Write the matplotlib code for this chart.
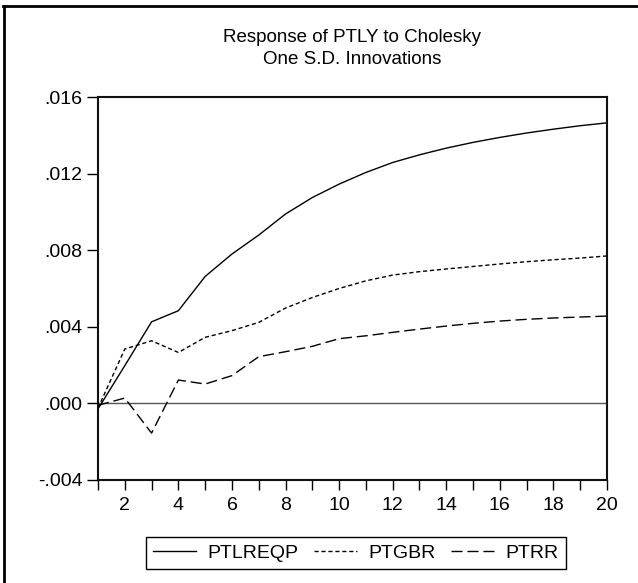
import numpy as np
import matplotlib
matplotlib.use("Agg")
import matplotlib.pyplot as plt
from matplotlib.lines import Line2D
from matplotlib.ticker import FuncFormatter

plt.rcParams['font.family'] = ['Liberation Sans', 'DejaVu Sans']

# impulse responses (periods 1..20)
periods = np.arange(1, 21)
ptlreqp = [-0.00029, 0.00197, 0.00426, 0.00484, 0.00663, 0.00780, 0.00879, 0.00989,
           0.01075, 0.01145, 0.01206, 0.01258, 0.01298, 0.01333, 0.01363, 0.01389,
           0.01412, 0.01432, 0.01450, 0.01465]
ptgbr = [-0.00025, 0.00284, 0.00327, 0.00266, 0.00345, 0.00380, 0.00423, 0.00498,
         0.00553, 0.00600, 0.00640, 0.00670, 0.00688, 0.00702, 0.00715, 0.00728,
         0.00740, 0.00750, 0.00759, 0.00770]
ptrr = [-0.00010, 0.00028, -0.00155, 0.00122, 0.00101, 0.00145, 0.00244, 0.00270,
        0.00298, 0.00338, 0.00353, 0.00371, 0.00388, 0.00404, 0.00418, 0.00430,
        0.00439, 0.00446, 0.00451, 0.00456]
series_names = ['PTLREQP', 'PTGBR', 'PTRR']
yticks = [-0.004, 0.000, 0.004, 0.008, 0.012, 0.016]
xticklabels = list(range(2, 21, 2))

W, H = 638, 583
fig = plt.figure(figsize=(W / 100, H / 100), dpi=100)
ax = fig.add_axes([98 / W, 1 - 480 / H, (607 - 98) / W, (480 - 97) / H])

styles = ['-', (0, (3, 2)), (0, (8, 3.5))]
for vals, ls in zip([ptlreqp, ptgbr, ptrr], styles):
    ax.plot(periods, vals, color='black', lw=1.0, linestyle=ls)

ax.axhline(0, color='#555555', lw=1.0, zorder=1)

ax.set_xlim(1, 20)
ax.set_ylim(-0.004, 0.016)
ax.set_yticks(yticks)
ax.yaxis.set_major_formatter(FuncFormatter(
    lambda v, p: ('-' if v < -1e-9 else '') + ('%.3f' % abs(v)).lstrip('0')))
ax.set_xticks(periods)
ax.set_xticklabels([str(p) if p in xticklabels else '' for p in periods])
ax.tick_params(axis='both', direction='out', length=8, width=1.0,
               labelsize=14, colors='black', pad=3)
ax.tick_params(axis='x', length=7, pad=5)
for s in ax.spines.values():
    s.set_linewidth(1.5)
    s.set_color('#111111')

fig.text(352 / W, 1 - 37 / H, 'Response of PTLY to Cholesky', ha='center',
         va='center', fontsize=13.5)
fig.text(352 / W, 1 - 60 / H, 'One S.D. Innovations', ha='center',
         va='center', fontsize=13.5)

handles = [Line2D([], [], color='black', lw=1.0, linestyle=ls) for ls in styles]
leg = fig.legend(handles, series_names, loc='center', ncol=3,
                 bbox_to_anchor=(356 / W, 1 - 553 / H), fontsize=14,
                 handlelength=2.2, handletextpad=0.6, columnspacing=0.8,
                 borderpad=0.35, fancybox=False, framealpha=1)
leg.get_frame().set_edgecolor('black')
leg.get_frame().set_linewidth(1.0)

# outer frame (left and top edges visible)
fig.add_artist(Line2D([4 / W, 4 / W], [0, 1 - 6 / H], color='black', lw=2,
                      transform=fig.transFigure))
fig.add_artist(Line2D([3 / W, 1], [1 - 6 / H, 1 - 6 / H], color='black', lw=2,
                      transform=fig.transFigure))

fig.savefig('out.png', dpi=100)
